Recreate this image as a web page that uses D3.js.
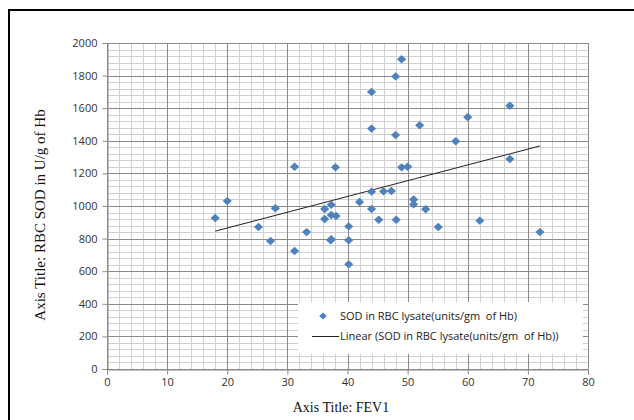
<!DOCTYPE html>
<html>
<head>
  <meta charset="utf-8">
  <title>SOD vs FEV1</title>
  <script src="https://d3js.org/d3.v7.min.js"></script>
  <style>
    html, body {
      margin: 0;
      padding: 0;
      background: #fff;
    }
    .tick-label {
      font: 11px "Open Sans", sans-serif;
      fill: #333;
    }
    .axis-title {
      font: 14px "Liberation Serif", "Times New Roman", serif;
      fill: #111;
    }
    .legend-text {
      font: 11px "Open Sans", sans-serif;
      fill: #222;
      white-space: pre;
    }
  </style>
</head>
<body>
  <svg id="chart" width="634" height="420"></svg>

  <script>
    // FEV1 values (x) and RBC SOD values (y)
    var fev1 = [49, 48, 44, 67, 60, 52, 44, 48, 58, 67,
                31.2, 38, 49, 50, 44, 46, 47.3, 20, 42, 51,
                51, 37.3, 28, 36.2, 44, 53, 18, 37.3, 38.1, 36.2,
                45.2, 48.1, 62, 25.2, 40.2, 55.1, 33.2, 72, 27.2, 37.3,
                37.2, 40.2, 31.2, 40.2];
    var sod  = [1900, 1795, 1700, 1615, 1545, 1495, 1475, 1435, 1397, 1288,
                1241, 1237, 1237, 1241, 1088, 1090, 1092, 1030, 1025, 1040,
                1010, 1008, 986, 982, 982, 980, 926, 945, 939, 920,
                916, 916, 910, 871, 875, 871, 840, 840, 785, 796,
                790, 790, 724, 642];

    var xTicks = [0, 10, 20, 30, 40, 50, 60, 70, 80];
    var yTicks = [0, 200, 400, 600, 800, 1000, 1200, 1400, 1600, 1800, 2000];

    var seriesName = "SOD in RBC lysate(units/gm  of Hb)";
    var trendName = "Linear (SOD in RBC lysate(units/gm  of Hb))";

    var svg = d3.select("#chart");

    // outer frame of the pasted figure
    svg.append("rect")
      .attr("x", 9).attr("y", 10)
      .attr("width", 660).attr("height", 440)
      .attr("fill", "none")
      .attr("stroke", "#000")
      .attr("stroke-width", 2);

    var x = d3.scaleLinear().domain([0, 80]).range([107, 588]);
    var y = d3.scaleLinear().domain([0, 2000]).range([369, 43]);

    // minor grid
    var g = svg.append("g");
    g.selectAll("line.vminor")
      .data(d3.range(0, 81, 2))
      .join("line")
      .attr("x1", d => Math.round(x(d)) + 0.5).attr("x2", d => Math.round(x(d)) + 0.5)
      .attr("y1", y(0)).attr("y2", y(2000))
      .attr("stroke", "#d0d0d0");
    g.selectAll("line.hminor")
      .data(d3.range(0, 2001, 40))
      .join("line")
      .attr("y1", d => Math.round(y(d)) + 0.5).attr("y2", d => Math.round(y(d)) + 0.5)
      .attr("x1", x(0)).attr("x2", x(80))
      .attr("stroke", "#d0d0d0");

    // major grid
    var gm = svg.append("g");
    gm.selectAll("line.v")
      .data(xTicks)
      .join("line")
      .attr("x1", d => Math.round(x(d)) + 0.5).attr("x2", d => Math.round(x(d)) + 0.5)
      .attr("y1", y(0)).attr("y2", y(2000))
      .attr("stroke", "#8a8a8a");
    gm.selectAll("line.h")
      .data(yTicks)
      .join("line")
      .attr("y1", d => Math.round(y(d)) + 0.5).attr("y2", d => Math.round(y(d)) + 0.5)
      .attr("x1", x(0)).attr("x2", x(80))
      .attr("stroke", "#8a8a8a");

    // axes (ticks + labels)
    var xAxis = svg.append("g")
      .attr("transform", "translate(0," + (Math.round(y(0)) + 0.5) + ")")
      .call(d3.axisBottom(x).tickValues(xTicks).tickSize(5).tickPadding(4));
    var yAxis = svg.append("g")
      .attr("transform", "translate(" + (Math.round(x(0)) + 0.5) + ",0)")
      .call(d3.axisLeft(y).tickValues(yTicks).tickSize(5).tickPadding(5).tickFormat(d3.format("d")));
    [xAxis, yAxis].forEach(a => {
      a.select(".domain").attr("stroke", "#8a8a8a");
      a.selectAll(".tick line").attr("stroke", "#8a8a8a");
      a.selectAll(".tick text").attr("class", "tick-label").attr("fill", null);
      a.attr("font-family", null).attr("font-size", null);
    });

    // linear trend (least squares)
    var pts = fev1.map((v, i) => [v, sod[i]]);
    var mx = d3.mean(fev1), my = d3.mean(sod);
    var sxy = d3.sum(pts, p => (p[0] - mx) * (p[1] - my));
    var sxx = d3.sum(fev1, v => (v - mx) * (v - mx));
    var slope = sxy / sxx, icpt = my - slope * mx;
    var x0 = d3.min(fev1), x1 = d3.max(fev1);
    svg.append("line")
      .attr("x1", x(x0)).attr("y1", y(icpt + slope * x0))
      .attr("x2", x(x1)).attr("y2", y(icpt + slope * x1))
      .attr("stroke", "#222")
      .attr("stroke-width", 1);

    // markers
    var diamond = "M0,-4.2L4.6,0L0,4.2L-4.6,0Z";
    svg.selectAll("path.pt")
      .data(pts)
      .join("path")
      .attr("class", "pt")
      .attr("d", diamond)
      .attr("transform", d => "translate(" + x(d[0]) + "," + y(d[1]) + ")")
      .attr("fill", "#4f81bd");

    // legend
    var lg = svg.append("g");
    lg.append("rect")
      .attr("x", 298).attr("y", 302)
      .attr("width", 285).attr("height", 52)
      .attr("fill", "#fff");
    lg.append("path")
      .attr("d", "M0,-3.5L3.8,0L0,3.5L-3.8,0Z")
      .attr("transform", "translate(323,316)")
      .attr("fill", "#4f81bd");
    lg.append("text")
      .attr("class", "legend-text")
      .attr("x", 340).attr("y", 320)
      .text(seriesName);
    lg.append("line")
      .attr("x1", 312).attr("x2", 339)
      .attr("y1", 336.5).attr("y2", 336.5)
      .attr("stroke", "#222");
    lg.append("text")
      .attr("class", "legend-text")
      .attr("x", 340).attr("y", 340)
      .text(trendName);

    // axis titles
    svg.append("text")
      .attr("class", "axis-title")
      .attr("x", 341).attr("y", 412)
      .attr("text-anchor", "middle")
      .text("Axis Title: FEV1");
    svg.append("text")
      .attr("class", "axis-title")
      .attr("transform", "translate(45,215) rotate(-90)")
      .attr("text-anchor", "middle")
      .style("font-size", "15px")
      .text("Axis Title: RBC SOD in U/g of Hb");
  </script>
</body>
</html>
